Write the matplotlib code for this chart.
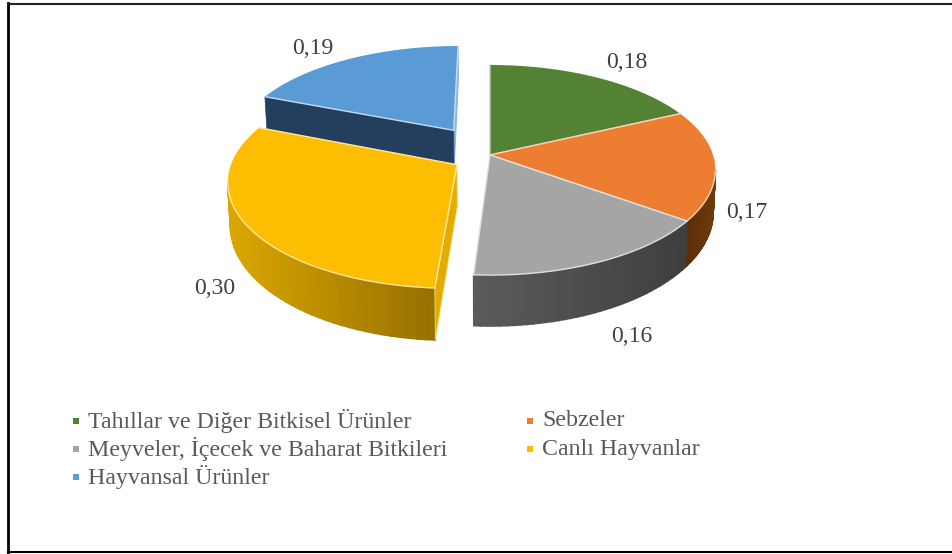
import numpy as np
import matplotlib
matplotlib.use("Agg")
import matplotlib.pyplot as plt
from matplotlib.patches import Polygon

categories = ["Tahıllar ve Diğer Bitkisel Ürünler", "Sebzeler",
              "Meyveler, İçecek ve Baharat Bitkileri", "Canlı Hayvanlar",
              "Hayvansal Ürünler"]
values = [0.18, 0.17, 0.16, 0.30, 0.19]
value_labels = ["0,18", "0,17", "0,16", "0,30", "0,19"]
explode = [0, 0, 0, 0.173, 0.30]
colors = ["#548235", "#ed7d31", "#a5a5a5", "#fdbd00", "#5b9bd5"]
wall_left = ["#3a5a24", "#5a2c06", "#5c5c5c", "#dca700", "#1f3a57"]
wall_right = ["#3a5a24", "#6e3a0a", "#3f3f3f", "#987200", "#264766"]
label_pos = [(627, 62), (747, 213), (632, 336), (215, 288), (313, 49)]
legend_pos = [(76, 421), (530, 421), (76, 449), (530, 449), (76, 477)]

# projection of the tilted disc
CX, CY = 490, 155
A, B, K = 223, 102.9, 0.143
D0, P = 41, 1.4


def project(X, Y, low=False):
    w = 1 + K * Y
    x = CX + A * X / w
    y = CY - B * Y / w
    if low:
        y = y + D0 / w ** P
        x = CX + (x - CX) * 0.99
    return x, y


fig = plt.figure(figsize=(9.52, 5.54), dpi=100)
ax = fig.add_axes([0, 0, 1, 1])
ax.set_xlim(0, 952)
ax.set_ylim(554, 0)
ax.axis("off")

ax.plot([8, 8], [3, 552], color="black", lw=2)
ax.plot([8, 952], [3.5, 3.5], color="#222222", lw=1.5)
ax.plot([8, 952], [552, 552], color="black", lw=1.5)

edges = np.cumsum([0] + values) * 2 * np.pi
front = np.arccos(-K)
z = 2
for i in [4, 3, 0, 1, 2]:
    t0, t1 = edges[i], edges[i + 1]
    mid = (t0 + t1) / 2
    ex = explode[i] * np.sin(mid)
    ey = explode[i] * np.cos(mid)
    t = np.linspace(t0, t1, 80)
    X = np.sin(t) + ex
    Y = np.cos(t) + ey
    tx, ty = project(X, Y)

    # outer wall, drawn as thin strips for the shading
    a0 = max(t0, front)
    a1 = min(t1, 2 * np.pi - front)
    if a1 > a0:
        s = np.linspace(a0, a1, 40)
        sx = np.sin(s) + ex
        sy = np.cos(s) + ey
        up = project(sx, sy)
        lo = project(sx, sy, low=True)
        c0 = np.array(matplotlib.colors.to_rgb(wall_left[i]))
        c1 = np.array(matplotlib.colors.to_rgb(wall_right[i]))
        left = up[0].min()
        right = up[0].max()
        for j in range(len(s) - 2, -1, -1):
            f = (up[0][j] - left) / (right - left)
            pts = [(up[0][j], up[1][j]), (up[0][j + 1], up[1][j + 1]),
                   (lo[0][j + 1], lo[1][j + 1]), (lo[0][j], lo[1][j])]
            col = c0 + (c1 - c0) * f
            ax.add_patch(Polygon(pts, closed=True, fc=col, ec=col, lw=1.2, zorder=z))
    z += 1

    # cut faces that can be seen from the front
    ap_up = project(ex, ey)
    ap_lo = project(ex, ey, low=True)
    first_up = project(np.array(X[0]), np.array(Y[0]))
    first_lo = project(np.array(X[0]), np.array(Y[0]), low=True)
    last_up = project(np.array(X[-1]), np.array(Y[-1]))
    last_lo = project(np.array(X[-1]), np.array(Y[-1]), low=True)
    if i == 4:
        ax.add_patch(Polygon([ap_up, last_up, last_lo, ap_lo], closed=True, fc="#8db4de", ec="#8db4de", lw=0.8, zorder=z))
        ax.add_patch(Polygon([ap_up, first_up, first_lo, ap_lo], closed=True, fc="#233f5d", ec="#233f5d", lw=0.5, zorder=z))
    if i == 3:
        ax.add_patch(Polygon([ap_up, first_up, first_lo, ap_lo], closed=True, fc="#e3ad00", ec="#f2d98a", lw=0.6, zorder=z))
    z += 1

    # top of the slice, light line only on the cuts and the front of the rim
    pts = np.column_stack([np.r_[ap_up[0], tx], np.r_[ap_up[1], ty]])
    tint = 0.35 * np.array(matplotlib.colors.to_rgb(colors[i])) + 0.65
    ax.add_patch(Polygon(pts, closed=True, fc=colors[i], ec="none", zorder=z))
    z += 1
    ax.plot([tx[0], ap_up[0], tx[-1]], [ty[0], ap_up[1], ty[-1]], color=tint, lw=1, zorder=z)
    rim = np.cos(t) < -K
    if rim.any():
        ax.plot(tx[rim], ty[rim], color=tint, lw=1, zorder=z)
    z += 1

for lab, (x, y) in zip(value_labels, label_pos):
    ax.text(x, y, lab, family="Liberation Serif", fontsize=17, color="#404040",
            ha="center", va="center", zorder=50)

for name, col, (x, y) in zip(categories, colors, legend_pos):
    ax.scatter([x], [y], marker="s", s=24, color=col, linewidths=0, zorder=50)
    ax.text(x + 12, y, name, family="Liberation Serif", fontsize=17.2, color="#595959",
            ha="left", va="center", zorder=50)

fig.savefig("out.png", dpi=100)
